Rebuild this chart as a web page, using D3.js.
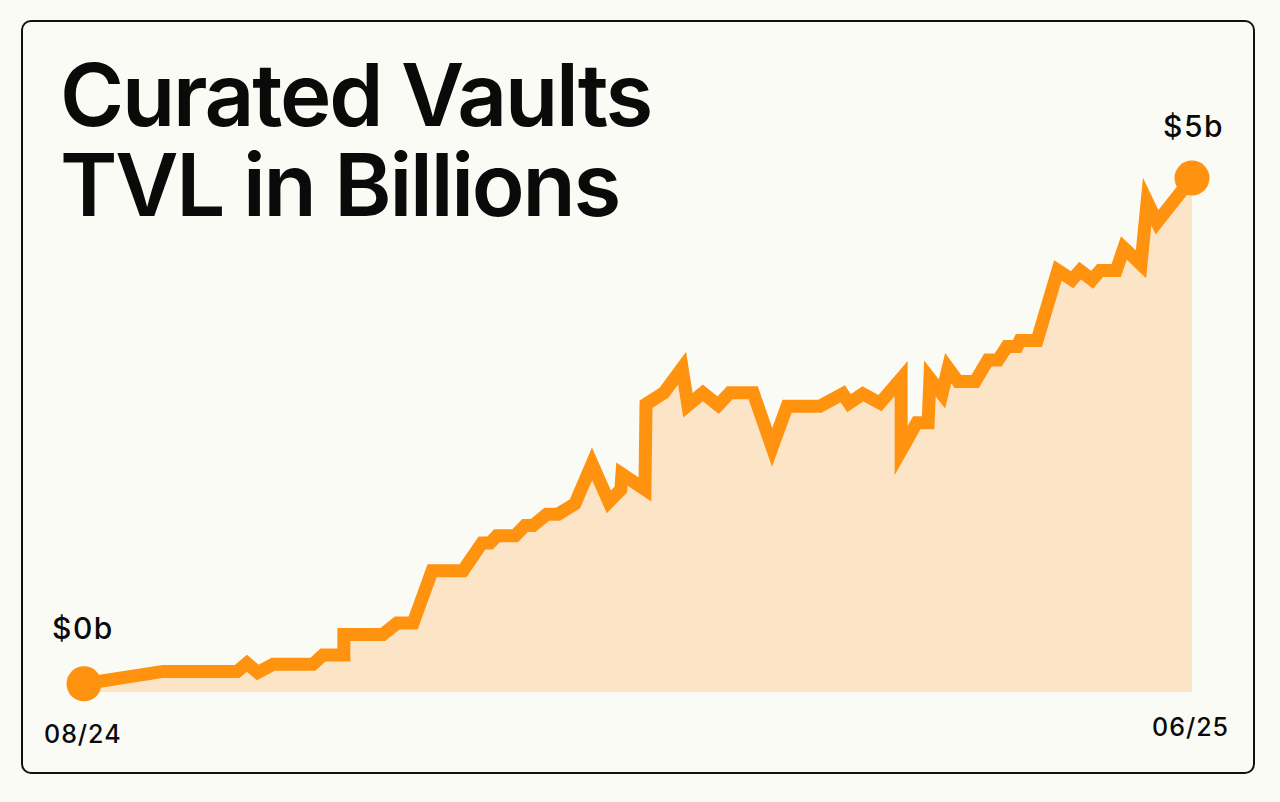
<!DOCTYPE html>
<html>
<head>
<meta charset="utf-8">
<script src="https://cdn.jsdelivr.net/npm/d3@7/dist/d3.min.js"></script>
<style>
  html, body { margin: 0; padding: 0; background: #FBFBF5; }
  svg { display: block; }
</style>
</head>
<body>
<svg id="chart" width="1280" height="802"></svg>
<script>
// Days since 08/2024 (x) and TVL in billions (y)
const days = [0, 21.7, 42.0, 44.7, 47.7, 51.9, 62.8, 65.6, 71.3, 71.3, 82.0, 85.9, 90.3, 95.5, 104.0, 109.2, 111.4, 113.3, 118.3, 121.0, 123.2, 127.0, 130.1, 134.7, 139.4, 144.0, 147.3, 147.6, 153.9, 154.2, 159.1, 164.1, 165.7, 169.8, 174.0, 177.2, 183.6, 188.8, 192.9, 201.9, 208.2, 209.9, 213.7, 218.4, 224.2, 224.2, 228.5, 231.6, 232.1, 235.4, 237.1, 239.8, 244.5, 248.0, 250.8, 253.2, 256.0, 256.8, 261.5, 267.2, 271.1, 273.3, 276.6, 278.8, 283.2, 285.3, 290.0, 291.7, 294.4, 304];
const tvl = [0.08, 0.20, 0.20, 0.28, 0.19, 0.27, 0.27, 0.36, 0.36, 0.56, 0.56, 0.67, 0.67, 1.18, 1.18, 1.45, 1.45, 1.52, 1.52, 1.62, 1.62, 1.73, 1.73, 1.83, 2.22, 1.85, 1.97, 2.12, 1.97, 2.80, 2.91, 3.15, 2.79, 2.91, 2.79, 2.91, 2.91, 2.38, 2.78, 2.78, 2.90, 2.81, 2.90, 2.81, 3.05, 2.35, 2.62, 2.62, 3.05, 2.90, 3.15, 3.02, 3.02, 3.23, 3.23, 3.36, 3.36, 3.42, 3.42, 4.10, 4.01, 4.10, 4.01, 4.10, 4.10, 4.32, 4.16, 4.77, 4.57, 5.00];
const titleLines = ["Curated Vaults", "TVL in Billions"];
const startLabel = "$0b";
const endLabel = "$5b";
const dateLabels = ["08/24", "06/25"];

const data = days.map((d, i) => ({ d, v: tvl[i] }));

const svg = d3.select("#chart");
const orange = "#FF920E";
const fillCol = "#FCE4C6";

// card
svg.append("rect")
  .attr("x", 22).attr("y", 21)
  .attr("width", 1232).attr("height", 752)
  .attr("rx", 9).attr("ry", 9)
  .attr("fill", "#FBFBF5")
  .attr("stroke", "#111").attr("stroke-width", 2);

const x = d3.scaleLinear().domain([0, 304]).range([84, 1192]);
const y = d3.scaleLinear().domain([0, 5]).range([692, 178]);

const area = d3.area()
  .x(d => x(d.d))
  .y0(y(0))
  .y1(d => y(d.v));

const line = d3.line()
  .x(d => x(d.d))
  .y(d => y(d.v));

svg.append("path")
  .datum(data)
  .attr("d", area)
  .attr("fill", fillCol);

svg.append("path")
  .datum(data)
  .attr("d", line)
  .attr("fill", "none")
  .attr("stroke", orange)
  .attr("stroke-width", 13)
  .attr("stroke-linejoin", "miter")
  .attr("stroke-miterlimit", 10);

const ends = [data[0], data[data.length - 1]];
svg.selectAll("circle.end")
  .data(ends)
  .join("circle")
  .attr("class", "end")
  .attr("cx", d => x(d.d))
  .attr("cy", d => y(d.v))
  .attr("r", 17.5)
  .attr("fill", orange);

// title
svg.selectAll("text.title")
  .data(titleLines)
  .join("text")
  .attr("class", "title")
  .attr("x", 60)
  .attr("y", (d, i) => 126 + i * 90)
  .attr("font-family", "Inter, sans-serif")
  .attr("font-weight", 600)
  .attr("font-size", 87)
  .attr("letter-spacing", -2.2)
  .attr("fill", "#0a0a0a")
  .text(d => d);

const labelFont = { family: "Inter, sans-serif", weight: 500 };

// value labels
svg.append("text")
  .attr("x", 52).attr("y", 639)
  .attr("font-family", labelFont.family)
  .attr("font-weight", labelFont.weight)
  .attr("font-size", 30)
  .attr("letter-spacing", 1.5)
  .attr("fill", "#0a0a0a")
  .text(startLabel);

svg.append("text")
  .attr("x", 1224).attr("y", 137)
  .attr("text-anchor", "end")
  .attr("font-family", labelFont.family)
  .attr("font-weight", labelFont.weight)
  .attr("font-size", 30)
  .attr("letter-spacing", 1.5)
  .attr("fill", "#0a0a0a")
  .text(endLabel);

// date labels
svg.append("text")
  .attr("x", 44).attr("y", 743)
  .attr("font-family", labelFont.family)
  .attr("font-weight", labelFont.weight)
  .attr("font-size", 25)
  .attr("letter-spacing", 1)
  .attr("fill", "#0a0a0a")
  .text(dateLabels[0]);

svg.append("text")
  .attr("x", 1229).attr("y", 736)
  .attr("text-anchor", "end")
  .attr("font-family", labelFont.family)
  .attr("font-weight", labelFont.weight)
  .attr("font-size", 25)
  .attr("letter-spacing", 1)
  .attr("fill", "#0a0a0a")
  .text(dateLabels[1]);
</script>
</body>
</html>
